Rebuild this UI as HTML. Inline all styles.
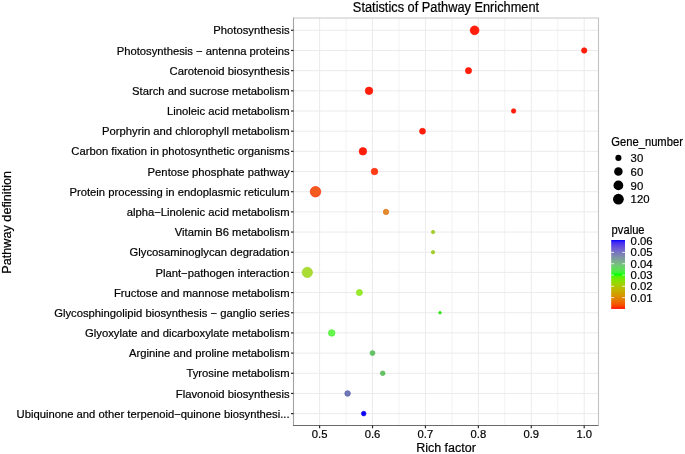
<!DOCTYPE html><html><head><meta charset="utf-8"><style>html,body{margin:0;padding:0;background:#fff;}svg{display:block;will-change:transform;}text{font-family:"Liberation Sans", sans-serif;fill:#000;stroke:#000;stroke-width:0.2px;}</style></head><body>
<svg width="685" height="454" viewBox="0 0 685 454">
<rect x="0" y="0" width="685" height="454" fill="#fff"/>
<line x1="346.06" y1="18.00" x2="346.06" y2="425.50" stroke="#efefef" stroke-width="0.8"/>
<line x1="398.98" y1="18.00" x2="398.98" y2="425.50" stroke="#efefef" stroke-width="0.8"/>
<line x1="451.90" y1="18.00" x2="451.90" y2="425.50" stroke="#efefef" stroke-width="0.8"/>
<line x1="504.82" y1="18.00" x2="504.82" y2="425.50" stroke="#efefef" stroke-width="0.8"/>
<line x1="557.74" y1="18.00" x2="557.74" y2="425.50" stroke="#efefef" stroke-width="0.8"/>
<line x1="319.60" y1="18.00" x2="319.60" y2="425.50" stroke="#ebebeb" stroke-width="1"/>
<line x1="372.52" y1="18.00" x2="372.52" y2="425.50" stroke="#ebebeb" stroke-width="1"/>
<line x1="425.44" y1="18.00" x2="425.44" y2="425.50" stroke="#ebebeb" stroke-width="1"/>
<line x1="478.36" y1="18.00" x2="478.36" y2="425.50" stroke="#ebebeb" stroke-width="1"/>
<line x1="531.28" y1="18.00" x2="531.28" y2="425.50" stroke="#ebebeb" stroke-width="1"/>
<line x1="584.20" y1="18.00" x2="584.20" y2="425.50" stroke="#ebebeb" stroke-width="1"/>
<line x1="293.50" y1="30.30" x2="598.50" y2="30.30" stroke="#ebebeb" stroke-width="1"/>
<line x1="293.50" y1="50.48" x2="598.50" y2="50.48" stroke="#ebebeb" stroke-width="1"/>
<line x1="293.50" y1="70.65" x2="598.50" y2="70.65" stroke="#ebebeb" stroke-width="1"/>
<line x1="293.50" y1="90.83" x2="598.50" y2="90.83" stroke="#ebebeb" stroke-width="1"/>
<line x1="293.50" y1="111.00" x2="598.50" y2="111.00" stroke="#ebebeb" stroke-width="1"/>
<line x1="293.50" y1="131.18" x2="598.50" y2="131.18" stroke="#ebebeb" stroke-width="1"/>
<line x1="293.50" y1="151.35" x2="598.50" y2="151.35" stroke="#ebebeb" stroke-width="1"/>
<line x1="293.50" y1="171.53" x2="598.50" y2="171.53" stroke="#ebebeb" stroke-width="1"/>
<line x1="293.50" y1="191.70" x2="598.50" y2="191.70" stroke="#ebebeb" stroke-width="1"/>
<line x1="293.50" y1="211.88" x2="598.50" y2="211.88" stroke="#ebebeb" stroke-width="1"/>
<line x1="293.50" y1="232.05" x2="598.50" y2="232.05" stroke="#ebebeb" stroke-width="1"/>
<line x1="293.50" y1="252.23" x2="598.50" y2="252.23" stroke="#ebebeb" stroke-width="1"/>
<line x1="293.50" y1="272.40" x2="598.50" y2="272.40" stroke="#ebebeb" stroke-width="1"/>
<line x1="293.50" y1="292.58" x2="598.50" y2="292.58" stroke="#ebebeb" stroke-width="1"/>
<line x1="293.50" y1="312.75" x2="598.50" y2="312.75" stroke="#ebebeb" stroke-width="1"/>
<line x1="293.50" y1="332.93" x2="598.50" y2="332.93" stroke="#ebebeb" stroke-width="1"/>
<line x1="293.50" y1="353.10" x2="598.50" y2="353.10" stroke="#ebebeb" stroke-width="1"/>
<line x1="293.50" y1="373.28" x2="598.50" y2="373.28" stroke="#ebebeb" stroke-width="1"/>
<line x1="293.50" y1="393.45" x2="598.50" y2="393.45" stroke="#ebebeb" stroke-width="1"/>
<line x1="293.50" y1="413.62" x2="598.50" y2="413.62" stroke="#ebebeb" stroke-width="1"/>
<circle cx="474.60" cy="30.30" r="4.40" fill="#ff1e0a" stroke="#ff1405" stroke-width="0.7"/>
<circle cx="584.20" cy="50.48" r="2.70" fill="#ff1e0a" stroke="#ff1405" stroke-width="0.7"/>
<circle cx="468.50" cy="70.65" r="3.10" fill="#ff1e0a" stroke="#ff1405" stroke-width="0.7"/>
<circle cx="369.00" cy="90.83" r="3.75" fill="#ff1e0a" stroke="#ff1405" stroke-width="0.7"/>
<circle cx="513.60" cy="111.00" r="2.25" fill="#ff1e0a" stroke="#ff1405" stroke-width="0.7"/>
<circle cx="422.50" cy="131.18" r="2.95" fill="#ff1e0a" stroke="#ff1405" stroke-width="0.7"/>
<circle cx="362.90" cy="151.35" r="3.75" fill="#ff1e0a" stroke="#ff1405" stroke-width="0.7"/>
<circle cx="374.50" cy="171.53" r="3.25" fill="#ff3c14" stroke="#ff2808" stroke-width="0.7"/>
<circle cx="315.50" cy="191.70" r="5.25" fill="#f25a1e" stroke="#ff2d0a" stroke-width="0.7"/>
<circle cx="386.00" cy="211.88" r="2.70" fill="#e38c2d" stroke="#e0731a" stroke-width="0.7"/>
<circle cx="433.10" cy="232.05" r="1.70" fill="#a2cf2c" stroke="#98c820" stroke-width="0.7"/>
<circle cx="433.00" cy="252.23" r="1.70" fill="#a2cf2c" stroke="#98c820" stroke-width="0.7"/>
<circle cx="307.30" cy="272.40" r="5.15" fill="#aadc34" stroke="#a0d628" stroke-width="0.7"/>
<circle cx="359.40" cy="292.58" r="3.05" fill="#98eb2c" stroke="#88e41c" stroke-width="0.7"/>
<circle cx="440.00" cy="312.75" r="1.30" fill="#28ec12" stroke="#20e00a" stroke-width="0.7"/>
<circle cx="331.70" cy="332.93" r="3.30" fill="#66f64e" stroke="#50f038" stroke-width="0.7"/>
<circle cx="372.50" cy="353.10" r="2.45" fill="#64c464" stroke="#50b450" stroke-width="0.7"/>
<circle cx="382.70" cy="373.28" r="2.30" fill="#64c464" stroke="#50b450" stroke-width="0.7"/>
<circle cx="347.60" cy="393.45" r="2.80" fill="#7078b8" stroke="#5a60aa" stroke-width="0.7"/>
<circle cx="363.70" cy="413.62" r="2.30" fill="#0c02f8" stroke="#0a00f0" stroke-width="0.7"/>
<line x1="293.50" y1="18.0" x2="598.5" y2="18.0" stroke="#c6c6c6" stroke-width="1"/>
<line x1="598.5" y1="17.5" x2="598.5" y2="425.50" stroke="#c3c3c3" stroke-width="1.1"/>
<line x1="293.5" y1="17.5" x2="293.5" y2="426.1" stroke="#a3a3a3" stroke-width="1.1"/>
<line x1="293.0" y1="425.5" x2="598.5" y2="425.5" stroke="#6a6a6a" stroke-width="1.1"/>
<line x1="291.00" y1="30.30" x2="293.50" y2="30.30" stroke="#2a2a2a" stroke-width="1.2"/>
<text x="289.60" y="34.40" font-size="11.25" text-anchor="end">Photosynthesis</text>
<line x1="291.00" y1="50.48" x2="293.50" y2="50.48" stroke="#2a2a2a" stroke-width="1.2"/>
<text x="289.60" y="54.58" font-size="11.25" text-anchor="end">Photosynthesis − antenna proteins</text>
<line x1="291.00" y1="70.65" x2="293.50" y2="70.65" stroke="#2a2a2a" stroke-width="1.2"/>
<text x="289.60" y="74.75" font-size="11.25" text-anchor="end">Carotenoid biosynthesis</text>
<line x1="291.00" y1="90.83" x2="293.50" y2="90.83" stroke="#2a2a2a" stroke-width="1.2"/>
<text x="289.60" y="94.92" font-size="11.25" text-anchor="end">Starch and sucrose metabolism</text>
<line x1="291.00" y1="111.00" x2="293.50" y2="111.00" stroke="#2a2a2a" stroke-width="1.2"/>
<text x="289.60" y="115.10" font-size="11.25" text-anchor="end">Linoleic acid metabolism</text>
<line x1="291.00" y1="131.18" x2="293.50" y2="131.18" stroke="#2a2a2a" stroke-width="1.2"/>
<text x="289.60" y="135.28" font-size="11.25" text-anchor="end">Porphyrin and chlorophyll metabolism</text>
<line x1="291.00" y1="151.35" x2="293.50" y2="151.35" stroke="#2a2a2a" stroke-width="1.2"/>
<text x="289.60" y="155.45" font-size="11.25" text-anchor="end">Carbon fixation in photosynthetic organisms</text>
<line x1="291.00" y1="171.53" x2="293.50" y2="171.53" stroke="#2a2a2a" stroke-width="1.2"/>
<text x="289.60" y="175.62" font-size="11.25" text-anchor="end">Pentose phosphate pathway</text>
<line x1="291.00" y1="191.70" x2="293.50" y2="191.70" stroke="#2a2a2a" stroke-width="1.2"/>
<text x="289.60" y="195.80" font-size="11.25" text-anchor="end">Protein processing in endoplasmic reticulum</text>
<line x1="291.00" y1="211.88" x2="293.50" y2="211.88" stroke="#2a2a2a" stroke-width="1.2"/>
<text x="289.60" y="215.98" font-size="11.25" text-anchor="end">alpha−Linolenic acid metabolism</text>
<line x1="291.00" y1="232.05" x2="293.50" y2="232.05" stroke="#2a2a2a" stroke-width="1.2"/>
<text x="289.60" y="236.15" font-size="11.25" text-anchor="end">Vitamin B6 metabolism</text>
<line x1="291.00" y1="252.23" x2="293.50" y2="252.23" stroke="#2a2a2a" stroke-width="1.2"/>
<text x="289.60" y="256.33" font-size="11.25" text-anchor="end">Glycosaminoglycan degradation</text>
<line x1="291.00" y1="272.40" x2="293.50" y2="272.40" stroke="#2a2a2a" stroke-width="1.2"/>
<text x="289.60" y="276.50" font-size="11.25" text-anchor="end">Plant−pathogen interaction</text>
<line x1="291.00" y1="292.58" x2="293.50" y2="292.58" stroke="#2a2a2a" stroke-width="1.2"/>
<text x="289.60" y="296.68" font-size="11.25" text-anchor="end">Fructose and mannose metabolism</text>
<line x1="291.00" y1="312.75" x2="293.50" y2="312.75" stroke="#2a2a2a" stroke-width="1.2"/>
<text x="289.60" y="316.85" font-size="11.25" text-anchor="end">Glycosphingolipid biosynthesis − ganglio series</text>
<line x1="291.00" y1="332.93" x2="293.50" y2="332.93" stroke="#2a2a2a" stroke-width="1.2"/>
<text x="289.60" y="337.03" font-size="11.25" text-anchor="end">Glyoxylate and dicarboxylate metabolism</text>
<line x1="291.00" y1="353.10" x2="293.50" y2="353.10" stroke="#2a2a2a" stroke-width="1.2"/>
<text x="289.60" y="357.20" font-size="11.25" text-anchor="end">Arginine and proline metabolism</text>
<line x1="291.00" y1="373.28" x2="293.50" y2="373.28" stroke="#2a2a2a" stroke-width="1.2"/>
<text x="289.60" y="377.38" font-size="11.25" text-anchor="end">Tyrosine metabolism</text>
<line x1="291.00" y1="393.45" x2="293.50" y2="393.45" stroke="#2a2a2a" stroke-width="1.2"/>
<text x="289.60" y="397.55" font-size="11.25" text-anchor="end">Flavonoid biosynthesis</text>
<line x1="291.00" y1="413.62" x2="293.50" y2="413.62" stroke="#2a2a2a" stroke-width="1.2"/>
<text x="289.60" y="417.73" font-size="11.25" text-anchor="end">Ubiquinone and other terpenoid−quinone biosynthesi...</text>
<line x1="319.60" y1="425.50" x2="319.60" y2="428.30" stroke="#2a2a2a" stroke-width="1.2"/>
<text x="319.60" y="438.0" font-size="11.25" text-anchor="middle">0.5</text>
<line x1="372.52" y1="425.50" x2="372.52" y2="428.30" stroke="#2a2a2a" stroke-width="1.2"/>
<text x="372.52" y="438.0" font-size="11.25" text-anchor="middle">0.6</text>
<line x1="425.44" y1="425.50" x2="425.44" y2="428.30" stroke="#2a2a2a" stroke-width="1.2"/>
<text x="425.44" y="438.0" font-size="11.25" text-anchor="middle">0.7</text>
<line x1="478.36" y1="425.50" x2="478.36" y2="428.30" stroke="#2a2a2a" stroke-width="1.2"/>
<text x="478.36" y="438.0" font-size="11.25" text-anchor="middle">0.8</text>
<line x1="531.28" y1="425.50" x2="531.28" y2="428.30" stroke="#2a2a2a" stroke-width="1.2"/>
<text x="531.28" y="438.0" font-size="11.25" text-anchor="middle">0.9</text>
<line x1="584.20" y1="425.50" x2="584.20" y2="428.30" stroke="#2a2a2a" stroke-width="1.2"/>
<text x="584.20" y="438.0" font-size="11.25" text-anchor="middle">1.0</text>
<text transform="translate(446.00,11.55) scale(1,1.08)" x="0" y="0" font-size="12.8" text-anchor="middle">Statistics of Pathway Enrichment</text>
<text x="446.00" y="451.7" font-size="12.5" text-anchor="middle">Rich factor</text>
<text transform="translate(11.0,222.35) rotate(-90)" x="0" y="0" font-size="12.7" text-anchor="middle">Pathway definition</text>
<text transform="translate(611.3,145.5) scale(1,1.1)" font-size="11.2">Gene_number</text>
<circle cx="618.4" cy="157.9" r="3.05" fill="#000"/>
<text x="630.6" y="162.00" font-size="11.35">30</text>
<circle cx="618.4" cy="171.6" r="4.25" fill="#000"/>
<text x="630.6" y="175.70" font-size="11.35">60</text>
<circle cx="618.4" cy="185.4" r="4.90" fill="#000"/>
<text x="630.6" y="189.50" font-size="11.35">90</text>
<circle cx="618.4" cy="199.2" r="5.40" fill="#000"/>
<text x="630.6" y="203.30" font-size="11.35">120</text>
<defs><linearGradient id="cb" x1="0" y1="0" x2="0" y2="1"><stop offset="0.0000" stop-color="#0000ff"/><stop offset="0.0250" stop-color="#3621f6"/><stop offset="0.0500" stop-color="#4b33ee"/><stop offset="0.0750" stop-color="#5941e5"/><stop offset="0.1000" stop-color="#644fdc"/><stop offset="0.1250" stop-color="#6c5bd3"/><stop offset="0.1500" stop-color="#7267cb"/><stop offset="0.1750" stop-color="#7772c2"/><stop offset="0.2000" stop-color="#7a7db9"/><stop offset="0.2250" stop-color="#7d88af"/><stop offset="0.2500" stop-color="#7d93a6"/><stop offset="0.2750" stop-color="#7d9e9c"/><stop offset="0.3000" stop-color="#7ca993"/><stop offset="0.3250" stop-color="#79b488"/><stop offset="0.3500" stop-color="#75bf7d"/><stop offset="0.3750" stop-color="#6fc972"/><stop offset="0.4000" stop-color="#67d465"/><stop offset="0.4250" stop-color="#5ddf57"/><stop offset="0.4500" stop-color="#4fe947"/><stop offset="0.4750" stop-color="#39f431"/><stop offset="0.5000" stop-color="#00ff00"/><stop offset="0.5250" stop-color="#49f700"/><stop offset="0.5500" stop-color="#65ef00"/><stop offset="0.5750" stop-color="#7ae700"/><stop offset="0.6000" stop-color="#8adf00"/><stop offset="0.6250" stop-color="#98d700"/><stop offset="0.6500" stop-color="#a4ce00"/><stop offset="0.6750" stop-color="#aec600"/><stop offset="0.7000" stop-color="#b8bd00"/><stop offset="0.7250" stop-color="#c1b400"/><stop offset="0.7500" stop-color="#c9ab00"/><stop offset="0.7750" stop-color="#d0a100"/><stop offset="0.8000" stop-color="#d79800"/><stop offset="0.8250" stop-color="#dd8d00"/><stop offset="0.8500" stop-color="#e38200"/><stop offset="0.8750" stop-color="#e87600"/><stop offset="0.9000" stop-color="#ed6a00"/><stop offset="0.9250" stop-color="#f25b00"/><stop offset="0.9500" stop-color="#f74a00"/><stop offset="0.9750" stop-color="#fb3300"/><stop offset="1.0000" stop-color="#ff0000"/></linearGradient></defs>
<rect x="611.2" y="240.0" width="13.80" height="68.90" fill="url(#cb)"/>
<text transform="translate(611.6,234.0) scale(1,1.1)" font-size="11.2">pvalue</text>
<line x1="611.2" y1="297.60" x2="614.00" y2="297.60" stroke="#fff" stroke-opacity="0.8" stroke-width="1"/>
<line x1="622.20" y1="297.60" x2="625.0" y2="297.60" stroke="#fff" stroke-opacity="0.8" stroke-width="1"/>
<text x="630.6" y="301.60" font-size="11.35">0.01</text>
<line x1="611.2" y1="286.31" x2="614.00" y2="286.31" stroke="#fff" stroke-opacity="0.8" stroke-width="1"/>
<line x1="622.20" y1="286.31" x2="625.0" y2="286.31" stroke="#fff" stroke-opacity="0.8" stroke-width="1"/>
<text x="630.6" y="290.31" font-size="11.35">0.02</text>
<line x1="611.2" y1="275.01" x2="614.00" y2="275.01" stroke="#fff" stroke-opacity="0.8" stroke-width="1"/>
<line x1="622.20" y1="275.01" x2="625.0" y2="275.01" stroke="#fff" stroke-opacity="0.8" stroke-width="1"/>
<text x="630.6" y="279.01" font-size="11.35">0.03</text>
<line x1="611.2" y1="263.72" x2="614.00" y2="263.72" stroke="#fff" stroke-opacity="0.8" stroke-width="1"/>
<line x1="622.20" y1="263.72" x2="625.0" y2="263.72" stroke="#fff" stroke-opacity="0.8" stroke-width="1"/>
<text x="630.6" y="267.72" font-size="11.35">0.04</text>
<line x1="611.2" y1="252.42" x2="614.00" y2="252.42" stroke="#fff" stroke-opacity="0.8" stroke-width="1"/>
<line x1="622.20" y1="252.42" x2="625.0" y2="252.42" stroke="#fff" stroke-opacity="0.8" stroke-width="1"/>
<text x="630.6" y="256.42" font-size="11.35">0.05</text>
<text x="630.6" y="245.13" font-size="11.35">0.06</text>
</svg></body></html>
